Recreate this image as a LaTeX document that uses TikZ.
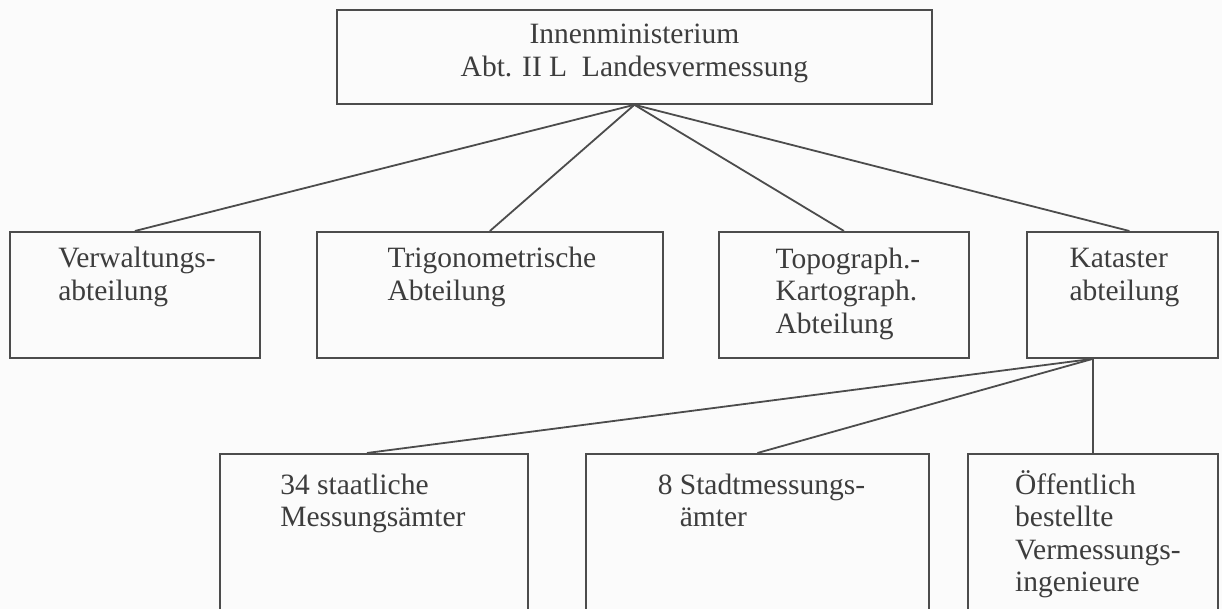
\documentclass[tikz,border=0pt]{standalone}
\usepackage{fontspec}
\setmainfont{Liberation Serif}
\usetikzlibrary{calc}
\definecolor{ink}{rgb}{0.24,0.24,0.24}
\definecolor{rule}{rgb}{0.30,0.30,0.30}
\definecolor{paper}{rgb}{0.985,0.985,0.985}
\begin{document}
\begin{tikzpicture}[x=1pt,y=-1pt,
  unit/.style={draw=rule, line width=1.8pt, rectangle, inner sep=0pt, anchor=north west},
  % multi-line labels are placed by the baseline of their last line
  txt/.style={text=ink, inner sep=0pt, anchor=base, align=left,
    font=\fontsize{29.5}{32.5}\selectfont},
  link/.style={draw=rule, line width=1.8pt}]
  \fill[paper] (0,0) rectangle (1222,609);
  \useasboundingbox (0,0) rectangle (1222,609);
  \begin{scope}
  \clip (0,0) rectangle (1222,609);
  % head office
  \node[unit, minimum width=595pt, minimum height=94pt] (top) at (336,9) {};
  \node[txt, align=center] (ttop) at ([shift={(0,67.5)}]top.north)
    {Innenministerium\\Abt. II L\enspace Landesvermessung};
  % departments
  \node[unit, minimum width=250pt, minimum height=126pt] (b1) at (9,231) {};
  \node[unit, minimum width=346pt, minimum height=126pt] (b2) at (316,231) {};
  \node[unit, minimum width=250pt, minimum height=126pt] (b3) at (718,231) {};
  \node[unit, minimum width=191pt, minimum height=126pt] (b4) at (1026,231) {};
  \node[txt] (t1) at ([shift={(2,69.5)}]b1.north) {Verwaltungs-\\abteilung};
  \node[txt] (t2) at ([shift={(2,69.5)}]b2.north) {Trigonometrische\\Abteilung};
  \node[txt] (t3) at ([shift={(4,102)}]b3.north) {Topograph.-\\Kartograph.\\Abteilung};
  \node[txt] (t4) at ([shift={(2,69.5)}]b4.north) {Kataster\\abteilung};
  % survey offices
  \node[unit, minimum width=308pt, minimum height=190pt] (c1) at (219,453) {};
  \node[unit, minimum width=343pt, minimum height=190pt] (c2) at (585,453) {};
  \node[unit, minimum width=250pt, minimum height=190pt] (c3) at (967,453) {};
  \node[txt] (u1) at ([shift={(-1,73.5)}]c1.north) {34 staatliche\\Messungsämter};
  \node[txt] (u2) at ([shift={(4,73.5)}]c2.north) {8 Stadtmessungs-\\\hphantom{8 }ämter};
  \node[txt] (u3) at ([shift={(5,138.5)}]c3.north) {Öffentlich\\bestellte\\Vermessungs-\\ingenieure};
  % connectors
  \coordinate (hub) at (top.south);
  \draw[link] (hub) -- (b1.north);
  \draw[link] (hub) -- (b2.north);
  \draw[link] (hub) -- (b3.north);
  \draw[link] (hub) -- ([xshift=7]b4.north);
  \coordinate (khub) at ([xshift=67]b4.south west);
  \draw[link] (khub) -- ([xshift=-7]c1.north);
  \draw[link] (khub) -- (c2.north);
  \draw[link] (khub) -- (khub |- c3.north);
  \end{scope}
\end{tikzpicture}
\end{document}
